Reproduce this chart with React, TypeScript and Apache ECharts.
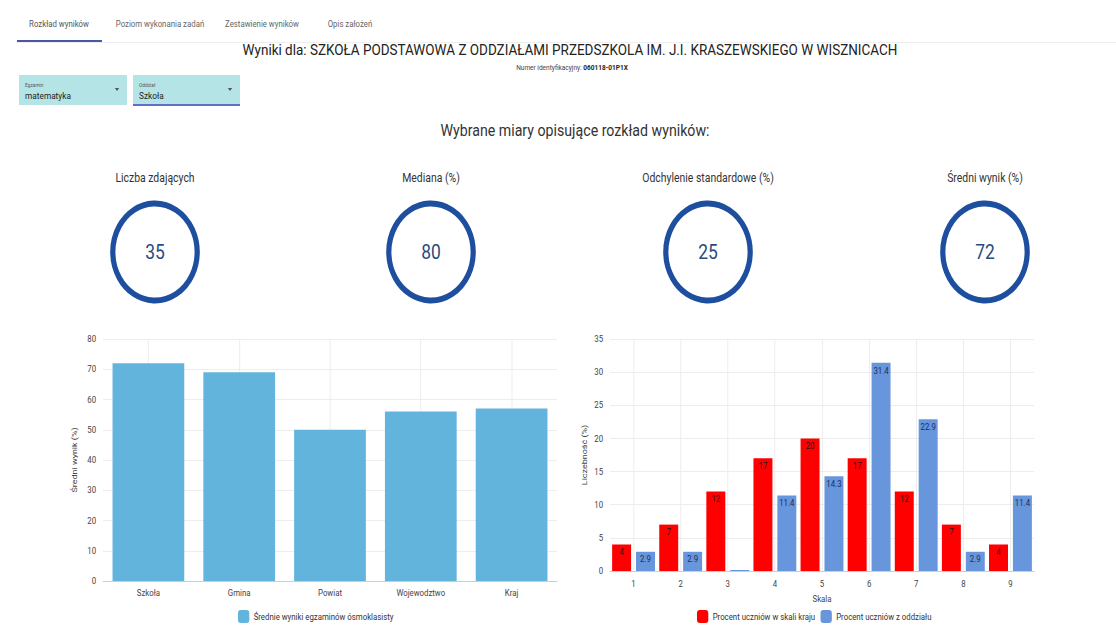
import React, { useEffect, useRef } from "react";
import * as echarts from "echarts";

// The reference screenshot is horizontally condensed; we draw at native width and compress.
const S = 0.87;
const W = Math.round(1116 / S);
const H = 642;
const X = (x: number) => x / S;
const FONT = "Roboto, 'Noto Sans', sans-serif";

const tabs = ["Rozkład wyników", "Poziom wykonania zadań", "Zestawienie wyników", "Opis założeń"];
const schoolTitle =
  "Wyniki dla: SZKOŁA PODSTAWOWA Z ODDZIAŁAMI PRZEDSZKOLA IM. J.I. KRASZEWSKIEGO W WISZNICACH";
const idLabel = "Numer identyfikacyjny: ";
const idValue = "060118-01P1X";
const filterLabels = ["Egzamin", "Oddział"];
const filterValues = ["matematyka", "Szkoła"];
const sectionTitle = "Wybrane miary opisujące rozkład wyników:";
const statLabels = ["Liczba zdających", "Mediana (%)", "Odchylenie standardowe (%)", "Średni wynik (%)"];
const statValues = [35, 80, 25, 72];

const levelCategories = ["Szkoła", "Gmina", "Powiat", "Wojewodztwo", "Kraj"];
const levelValues = [72, 69, 50, 56, 57];
const levelSeriesName = "Średnie wyniki egzaminów ósmoklasisty";
const levelAxisName = "Średni wynik (%)";

const scaleCategories = ["1", "2", "3", "4", "5", "6", "7", "8", "9"];
const countryName = "Procent uczniów w skali kraju";
const countryPct = [4, 7, 12, 17, 20, 17, 12, 7, 4];
const className = "Procent uczniów z oddziału";
const classPct = [2.9, 2.9, 0, 11.4, 14.3, 31.4, 22.9, 2.9, 11.4];
const scaleAxisName = "Skala";
const countAxisName = "Liczebność (%)";

function txt(x: number, y: number, text: string, fontSize: number, fill: string, align = "center", extra: any = {}) {
  return {
    type: "text",
    x,
    y,
    style: {
      text,
      fontSize,
      fill,
      fontFamily: FONT,
      align,
      textAlign: align,
      verticalAlign: "middle",
      textVerticalAlign: "middle",
      ...extra,
    },
  };
}

function buildGraphic() {
  const g: any[] = [];
  const tabCenters = [X(59), X(160), X(262), X(350)];
  tabs.forEach((t, i) => g.push(txt(tabCenters[i], 24, t, 9, i === 0 ? "#555" : "#666")));
  g.push({ type: "rect", shape: { x: X(17), y: 42, width: W - X(17), height: 1 }, style: { fill: "#eeeeee" } });
  g.push({ type: "rect", shape: { x: X(17), y: 40, width: X(102) - X(17), height: 2 }, style: { fill: "#4a56a6" } });

  g.push(txt(X(570), 50, schoolTitle, 15.5, "#222"));
  g.push({
    type: "text",
    x: X(572),
    y: 67,
    style: {
      text: "{a|" + idLabel + "}{b|" + idValue + "}",
      align: "center",
      textAlign: "center",
      verticalAlign: "middle",
      textVerticalAlign: "middle",
      rich: {
        a: { fontSize: 7.5, fill: "#444", color: "#444", fontFamily: FONT },
        b: { fontSize: 7.5, fill: "#222", color: "#222", fontWeight: "bold", fontFamily: FONT },
      },
    },
  });

  const boxes = [
    { x0: X(19), x1: X(127) },
    { x0: X(133), x1: X(240) },
  ];
  boxes.forEach((b, i) => {
    g.push({ type: "rect", shape: { x: b.x0, y: 75, width: b.x1 - b.x0, height: 30 }, style: { fill: "#b4e4e5" } });
    if (i === 1) {
      g.push({ type: "rect", shape: { x: b.x0, y: 104, width: b.x1 - b.x0, height: 2 }, style: { fill: "#6470c8" } });
    }
    g.push(txt(b.x0 + 7, 85, filterLabels[i], 5.5, "#555", "left"));
    g.push(txt(b.x0 + 7, 96, filterValues[i], 9.5, "#222", "left"));
    const ax = b.x1 - X(10);
    g.push({
      type: "polygon",
      shape: { points: [[ax - 2.5, 88], [ax + 2.5, 88], [ax, 91]] },
      style: { fill: "#555" },
    });
  });

  g.push(txt(X(575), 131, sectionTitle, 16.3, "#333"));

  const centers = [X(155), X(431), X(708), X(985)];
  statLabels.forEach((l, i) => {
    g.push(txt(centers[i], 178, l, 12, "#333"));
    g.push({
      type: "circle",
      shape: { cx: centers[i], cy: 252, r: 48.5 },
      style: { fill: "none", stroke: "#1e4f9e", lineWidth: 6 },
    });
    g.push(txt(centers[i], 253, String(statValues[i]), 20, "#2a4b7c"));
  });
  return g;
}

const axisLabelStyle = { fontSize: 9, color: "#444", fontFamily: FONT };
const splitLineStyle = { lineStyle: { color: "#ececec", width: 1 } };

const labelFmt = (p: any) => (p.value === 0 ? "" : String(p.value));

const option: any = {
  animation: false,
  backgroundColor: "#ffffff",
  textStyle: { fontFamily: FONT },
  graphic: buildGraphic(),
  grid: [
    { left: X(103), top: 339, width: X(557) - X(103), height: 242 },
    { left: X(610), top: 339, width: X(1034) - X(610), height: 232 },
  ],
  xAxis: [
    {
      type: "category",
      gridIndex: 0,
      data: levelCategories,
      axisTick: { show: false },
      axisLine: { lineStyle: { color: "#cccccc" } },
      axisLabel: { ...axisLabelStyle, margin: 7 },
      splitLine: { show: true, alignWithLabel: true, ...splitLineStyle },
    },
    {
      type: "category",
      gridIndex: 1,
      data: scaleCategories,
      name: scaleAxisName,
      nameLocation: "middle",
      nameGap: 23,
      nameTextStyle: { fontSize: 9, color: "#444", fontFamily: FONT },
      axisTick: { show: false },
      axisLine: { lineStyle: { color: "#cccccc" } },
      axisLabel: { ...axisLabelStyle, margin: 8 },
      splitLine: { show: true, alignWithLabel: true, ...splitLineStyle },
    },
  ],
  yAxis: [
    {
      type: "value",
      gridIndex: 0,
      min: 0,
      max: 80,
      interval: 10,
      name: levelAxisName,
      nameLocation: "middle",
      nameGap: X(103) - X(78),
      nameTextStyle: { fontSize: 9, color: "#444", fontFamily: FONT },
      axisLine: { show: false },
      axisTick: { show: false },
      axisLabel: { ...axisLabelStyle, margin: 8 },
      splitLine: splitLineStyle,
    },
    {
      type: "value",
      gridIndex: 1,
      min: 0,
      max: 35,
      interval: 5,
      name: countAxisName,
      nameLocation: "middle",
      nameGap: X(610) - X(588),
      nameTextStyle: { fontSize: 9, color: "#444", fontFamily: FONT },
      axisLine: { show: false },
      axisTick: { show: false },
      axisLabel: { ...axisLabelStyle, margin: 8 },
      splitLine: splitLineStyle,
    },
  ],
  legend: [
    {
      data: [levelSeriesName],
      left: X(238),
      top: 610,
      padding: 0,
      itemWidth: 13,
      itemHeight: 13,
      icon: "roundRect",
      textStyle: { fontSize: 9, color: "#333", fontFamily: FONT },
    },
    {
      data: [countryName, className],
      left: X(697),
      top: 610,
      padding: 0,
      itemWidth: 13,
      itemHeight: 13,
      itemGap: 6,
      icon: "roundRect",
      textStyle: { fontSize: 9, color: "#333", fontFamily: FONT },
    },
  ],
  series: [
    {
      type: "bar",
      name: levelSeriesName,
      xAxisIndex: 0,
      yAxisIndex: 0,
      data: levelValues,
      barCategoryGap: "21%",
      itemStyle: { color: "#62b4dc" },
    },
    {
      type: "bar",
      name: countryName,
      xAxisIndex: 1,
      yAxisIndex: 1,
      data: countryPct,
      barGap: "26%",
      barCategoryGap: "9%",
      itemStyle: { color: "#ff0000" },
      label: {
        show: true,
        position: "insideTop",
        distance: 3,
        fontSize: 9,
        color: "#2a1a1a",
        fontFamily: FONT,
        formatter: labelFmt,
      },
    },
    {
      type: "bar",
      name: className,
      xAxisIndex: 1,
      yAxisIndex: 1,
      data: classPct,
      barGap: "26%",
      barCategoryGap: "9%",
      barMinHeight: 1,
      itemStyle: { color: "#6796dd" },
      label: {
        show: true,
        position: "insideTop",
        distance: 3,
        fontSize: 9,
        color: "#1c2f5c",
        fontFamily: FONT,
        formatter: labelFmt,
      },
    },
  ],
};

export default function App() {
  const ref = useRef<HTMLDivElement>(null);
  useEffect(() => {
    if (!ref.current) return;
    const chart = echarts.init(ref.current, null, { renderer: "svg" });
    chart.setOption(option);
    return () => chart.dispose();
  }, []);
  return (
    <div
      ref={ref}
      style={{
        position: "fixed",
        left: 0,
        top: 0,
        width: W,
        height: H,
        transform: `scaleX(${S})`,
        transformOrigin: "0 0",
        background: "#fff",
      }}
    />
  );
}
